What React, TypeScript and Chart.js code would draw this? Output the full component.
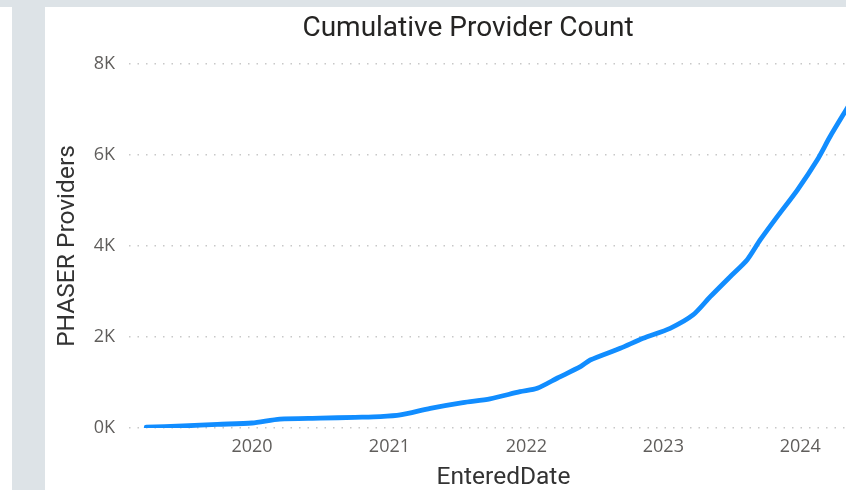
import React, { useEffect, useRef } from "react";
import { Chart, registerables } from "chart.js";

Chart.register(...registerables);

const chartTitle = "Cumulative Provider Count";
const xAxisTitle = "EnteredDate";
const yAxisTitle = "PHASER Providers";

// visible date range of the continuous axis
const axisStartDate = "2019-02-07";
const axisEndDate = "2024-07-26";

const enteredDates = [
  "2019-03-25", "2019-07-01", "2019-10-01", "2020-01-01", "2020-03-15", "2020-07-01",
  "2020-10-01", "2020-12-08", "2021-01-30", "2021-04-20", "2021-07-16", "2021-09-26",
  "2021-12-15", "2022-01-30", "2022-03-25", "2022-05-25", "2022-06-20", "2022-09-08",
  "2022-11-08", "2023-01-19", "2023-03-21", "2023-05-06", "2023-06-28", "2023-08-12",
  "2023-09-16", "2023-10-31", "2023-12-24", "2024-02-15", "2024-03-20", "2024-05-02",
  "2024-05-14",
];

const providerCounts = [
  20, 45, 80, 110, 195, 215,
  235, 250, 286, 433, 560, 640,
  798, 873, 1099, 1347, 1495, 1752,
  1971, 2191, 2484, 2886, 3325, 3692,
  4132, 4640, 5230, 5890, 6400, 6990,
  7150,
];

const yTickValues = [0, 2000, 4000, 6000, 8000];
const xTickYears = [2020, 2021, 2022, 2023, 2024];

const toTs = (d: string) => Date.parse(d + "T00:00:00Z");

export default function App() {
  const ref = useRef<HTMLCanvasElement>(null);

  useEffect(() => {
    const points = enteredDates.map((d, i) => ({ x: toTs(d), y: providerCounts[i] }));
    const chart = new Chart(ref.current!, {
      type: "line",
      data: {
        datasets: [
          {
            data: points,
            borderColor: "#118DFF",
            borderWidth: 4.8,
            pointRadius: 0,
            tension: 0.25,
            fill: false,
            borderCapStyle: "round",
            borderJoinStyle: "round",
          },
        ],
      },
      options: {
        animation: false,
        responsive: false,
        maintainAspectRatio: false,
        layout: { padding: { left: 13, right: 13, top: 0, bottom: 0 } },
        plugins: {
          legend: { display: false },
          tooltip: { enabled: false },
          title: {
            display: true,
            text: chartTitle,
            color: "#252423",
            font: { family: "Roboto", size: 28, weight: "normal", lineHeight: 1.2 },
            padding: { top: 5.2, bottom: 18.2 },
          },
        },
        scales: {
          x: {
            type: "linear",
            min: toTs(axisStartDate),
            max: toTs(axisEndDate),
            afterBuildTicks: (s: any) => {
              s.ticks = xTickYears.map((y) => ({ value: Date.UTC(y, 0, 1) }));
            },
            afterFit: (s: any) => {
              s.height = 62;
            },
            ticks: {
              autoSkip: false,
              maxRotation: 0,
              padding: 8,
              color: "#605E5C",
              font: { family: "'Open Sans'", size: 18 },
              callback: (v: any) => String(new Date(Number(v)).getUTCFullYear()),
            },
            grid: { display: false, drawTicks: false },
            border: { display: false },
            title: {
              display: true,
              text: xAxisTitle,
              color: "#333333",
              font: { family: "Roboto", size: 24.5, lineHeight: 1 },
              padding: { top: 0, bottom: 0 },
            },
          },
          y: {
            min: 0,
            max: 8000,
            afterBuildTicks: (s: any) => {
              s.ticks = yTickValues.map((v) => ({ value: v }));
            },
            afterFit: (s: any) => {
              s.width = 71;
            },
            ticks: {
              padding: 14,
              color: "#605E5C",
              font: { family: "'Open Sans'", size: 18 },
              callback: (v: any) => `${Number(v) / 1000}K`,
            },
            grid: { color: "#C8C8C8", lineWidth: 1.5, drawTicks: false },
            border: { display: false, dash: [1.5, 7] },
            title: {
              display: true,
              text: yAxisTitle,
              color: "#333333",
              font: { family: "Roboto", size: 24.5, lineHeight: 0.6 },
              padding: { top: 3, bottom: 0 },
            },
          },
        },
      },
    });
    return () => chart.destroy();
  }, []);

  return (
    <div
      style={{
        position: "fixed",
        left: 0,
        top: 0,
        width: 846,
        height: 490,
        background: "#ffffff",
        overflow: "hidden",
      }}
    >
      <div style={{ position: "absolute", left: 0, top: 0, width: 846, height: 7, background: "#DDE3E7" }} />
      <div style={{ position: "absolute", left: 12, top: 7, width: 33, height: 483, background: "#DDE3E7" }} />
      <canvas
        ref={ref}
        width={846}
        height={483}
        style={{ position: "absolute", left: 45, top: 7, width: 846, height: 483 }}
      />
    </div>
  );
}
